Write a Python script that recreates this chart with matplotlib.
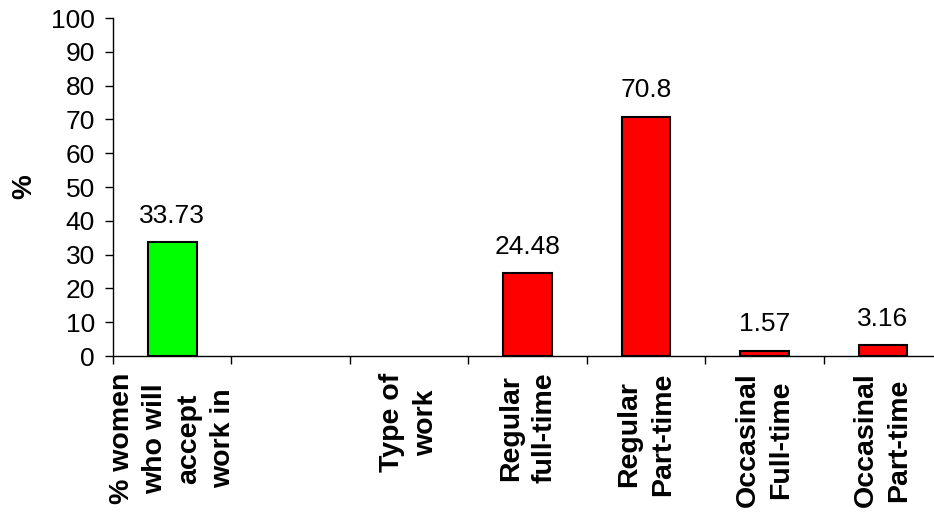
import matplotlib
matplotlib.use("Agg")
import matplotlib.pyplot as plt

plt.rcParams['font.family'] = ['Liberation Sans', 'DejaVu Sans']

categories = [
    "% women\nwho will\naccept\nwork in",
    "",
    "Type of\nwork",
    "Regular\nfull-time",
    "Regular\nPart-time",
    "Occasinal\nFull-time",
    "Occasinal\nPart-time",
]
bar_positions = [0, 3, 4, 5, 6]
bar_values = [33.73, 24.48, 70.8, 1.57, 3.16]
bar_labels = ["33.73", "24.48", "70.8", "1.57", "3.16"]
bar_colors = ["#00FF00", "#FF0000", "#FF0000", "#FF0000", "#FF0000"]
y_ticks = list(range(0, 101, 10))

fig = plt.figure(figsize=(9.34, 5.16), dpi=100)
ax = fig.add_axes([0.121, 0.310, 0.8876, 0.655])

ax.bar(bar_positions, bar_values, width=0.41, color=bar_colors,
       edgecolor="black", linewidth=1.5, zorder=3)

for x, v, lab in zip(bar_positions, bar_values, bar_labels):
    ax.annotate(lab, (x, v), xytext=(0, 14), textcoords="offset points",
                ha="center", va="baseline", fontsize=19)

ax.set_xlim(-0.5, len(categories) - 0.5)
ax.set_ylim(0, 100)
ax.set_yticks(y_ticks)
ax.set_yticklabels([str(t) for t in y_ticks], fontsize=19)

# category names centred in each slot, ticks on the slot boundaries
ax.set_xticks(range(len(categories)))
ax.set_xticklabels(categories, rotation=90, fontsize=20.5, fontweight="bold",
                   ha="center", va="top", multialignment="center",
                   linespacing=1.38)
ax.tick_params(axis="x", which="major", length=0, pad=12)
ax.set_xticks([i - 0.5 for i in range(len(categories) + 1)], minor=True)
ax.tick_params(axis="x", which="minor", length=6, width=1, direction="out")
ax.tick_params(axis="y", length=6, width=1, direction="out", pad=7)

ax.set_ylabel("%", fontsize=20, fontweight="bold", labelpad=10)

for side in ("top", "right"):
    ax.spines[side].set_visible(False)
for side in ("left", "bottom"):
    ax.spines[side].set_linewidth(1)

fig.savefig("out.png", dpi=100)
